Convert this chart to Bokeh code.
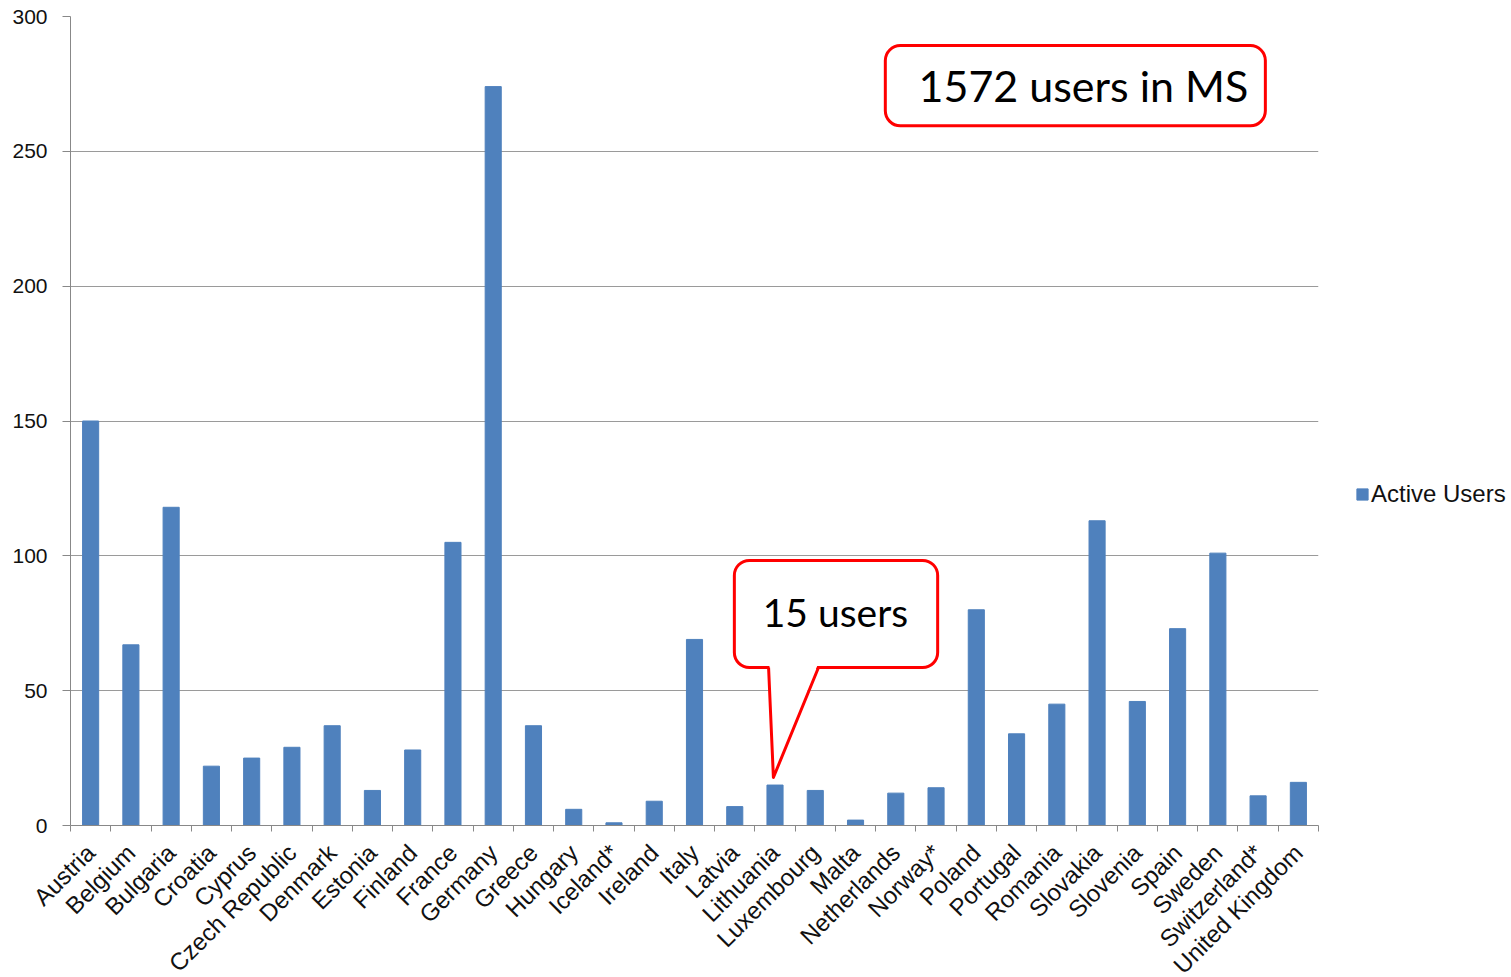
from bokeh.plotting import figure
from bokeh.models import FixedTicker, Range1d, Legend, LegendItem, ColumnDataSource
from bokeh.core.properties import value
from bokeh.embed import file_html
from bokeh.resources import INLINE
import math

countries = ["Austria", "Belgium", "Bulgaria", "Croatia", "Cyprus", "Czech Republic",
             "Denmark", "Estonia", "Finland", "France", "Germany", "Greece", "Hungary",
             "Iceland*", "Ireland", "Italy", "Latvia", "Lithuania", "Luxembourg", "Malta",
             "Netherlands", "Norway*", "Poland", "Portugal", "Romania", "Slovakia",
             "Slovenia", "Spain", "Sweden", "Switzerland*", "United Kingdom"]
active_users = [150, 67, 118, 22, 25, 29, 37, 13, 28, 105, 274, 37, 6, 1, 9, 69, 7,
                15, 13, 2, 12, 14, 80, 34, 45, 113, 46, 73, 101, 11, 16]
y_ticks = [0, 50, 100, 150, 200, 250, 300]

n = len(countries)
centers = [i + 0.5 for i in range(n)]

p = figure(frame_width=1248, frame_height=809, output_backend="svg", toolbar_location=None,
           x_range=Range1d(0, n), y_range=Range1d(0, 300),
           min_border_left=70, min_border_top=16, min_border_bottom=145, min_border_right=182)
p.outline_line_color = None
p.background_fill_color = "white"

src = ColumnDataSource(dict(x=centers, top=active_users))
bars = p.vbar(x="x", top="top", width=0.4, bottom=0, source=src,
              fill_color="#4F81BD", line_color="#4F81BD")

# axes
xa = p.xaxis[0]
xa.ticker = FixedTicker(ticks=centers, minor_ticks=list(range(n + 1)))
xa.major_label_overrides = {c: name for c, name in zip(centers, countries)}
xa.major_label_orientation = math.pi / 4
xa.major_tick_out = 0
xa.major_tick_in = 0
xa.minor_tick_out = 6
xa.minor_tick_in = 0
xa.minor_tick_line_color = "#888888"
xa.axis_line_color = "#888888"
xa.major_label_text_font = "Liberation Sans"
xa.major_label_text_font_size = "24px"
xa.major_label_text_color = "#111111"
xa.major_label_standoff = 17

ya = p.yaxis[0]
ya.ticker = FixedTicker(ticks=y_ticks)
ya.minor_tick_out = 0
ya.minor_tick_in = 0
ya.major_tick_out = 8
ya.major_tick_in = 0
ya.major_tick_line_color = "#888888"
ya.axis_line_color = "#888888"
ya.major_label_text_font = "Liberation Sans"
ya.major_label_text_font_size = "21px"
ya.major_label_text_color = "#111111"
ya.major_label_standoff = 15

p.xgrid.grid_line_color = None
p.ygrid.grid_line_color = "#9a9a9a"
p.ygrid.ticker = FixedTicker(ticks=y_ticks)

# callout 1
p.quad(left=[20.24], right=[29.68], bottom=[259.5], top=[289.2], fill_color="white",
       line_color="#ff0000", line_width=3, border_radius=15)
p.text(x=[25.16], y=[274.4], text=["1572 users in MS"], text_align="center",
       text_baseline="middle", text_font=value("Lato"), text_font_size="43px",
       text_color="black")

# callout 2
p.quad(left=[16.49], right=[21.54], bottom=[58.6], top=[98.3], fill_color="white",
       line_color="#ff0000", line_width=3, border_radius=15)
p.patch(x=[17.36, 17.46, 18.56], y=[59.6, 17.8, 59.6], fill_color="white", line_alpha=0)
p.line(x=[17.34, 17.46, 18.58], y=[58.6, 17.8, 58.6], line_color="#ff0000", line_width=3,
       line_join="round")
p.text(x=[19.0], y=[79.3], text=["15 users"], text_align="center",
       text_baseline="middle", text_font=value("Lato"), text_font_size="39px",
       text_color="black")

legend = Legend(items=[LegendItem(label="Active Users", renderers=[bars])],
                location=(37, 317), padding=0, margin=0, border_line_color=None,
                background_fill_alpha=0, glyph_width=14, glyph_height=14,
                label_text_font="Liberation Sans", label_text_font_size="24px",
                label_standoff=2, label_text_color="#111111")
p.add_layout(legend, "right")

open("out.html", "w").write(file_html(p, INLINE))
